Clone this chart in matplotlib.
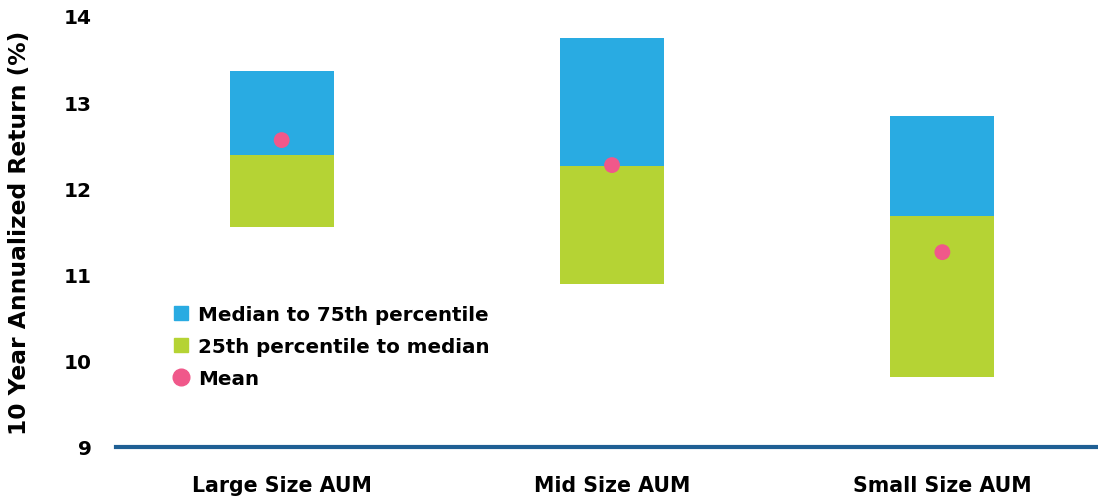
import numpy as np
import matplotlib.pyplot as plt
from matplotlib.lines import Line2D

plt.rcParams['font.family'] = ['DejaVu Sans']
plt.rcParams['font.weight'] = 'bold'

categories = ['Large Size AUM', 'Mid Size AUM', 'Small Size AUM']
p25 = [11.55, 10.89, 9.81]
median = [12.39, 12.26, 11.68]
p75 = [13.36, 13.74, 12.84]
mean = [12.56, 12.27, 11.26]

blue = '#29abe2'
green = '#b5d334'
pink = '#f0588a'

x = np.arange(len(categories))
width = 0.315

fig = plt.figure(figsize=(10.98, 5.02), dpi=100)
ax = fig.add_axes([0.1061, 0.1076, 0.9026, 0.8586])

low = np.array(median) - np.array(p25)
high = np.array(p75) - np.array(median)
ax.bar(x, low, width, bottom=p25, color=green, zorder=2)
ax.bar(x, high, width, bottom=median, color=blue, zorder=2)
ax.scatter(x, mean, s=130, color=pink, zorder=3, edgecolors='none')

ax.set_xlim(-0.5, 2.5)
ax.set_ylim(9, 14)
ax.set_yticks([9, 10, 11, 12, 13, 14])
ax.set_xticks(x)
ax.set_xticklabels(categories)
ax.tick_params(axis='y', length=0, labelsize=14.5, pad=18)
ax.tick_params(axis='x', length=0, labelsize=14.8, pad=20)
for s in ['top', 'right', 'left']:
    ax.spines[s].set_visible(False)
ax.spines['bottom'].set_color('#1f5f94')
ax.spines['bottom'].set_linewidth(3)

ax.set_ylabel('10 Year Annualized Return (%)', fontsize=16.8, fontweight='bold')
ax.yaxis.set_label_coords(-0.086, 0.5)

handles = [
    Line2D([], [], marker='s', color=blue, linestyle='none', markersize=10),
    Line2D([], [], marker='s', color=green, linestyle='none', markersize=10),
    Line2D([], [], marker='o', color=pink, linestyle='none', markersize=12),
]
labels = ['Median to 75th percentile', '25th percentile to median', 'Mean']
ax.legend(handles, labels, loc='upper left', bbox_to_anchor=(0.055, 0.33), frameon=False,
          prop={'size': 14.3, 'weight': 'bold'}, handletextpad=0.35, labelspacing=0.65,
          handlelength=1.0, borderaxespad=0, borderpad=0)

fig.savefig('out.png', dpi=100)
